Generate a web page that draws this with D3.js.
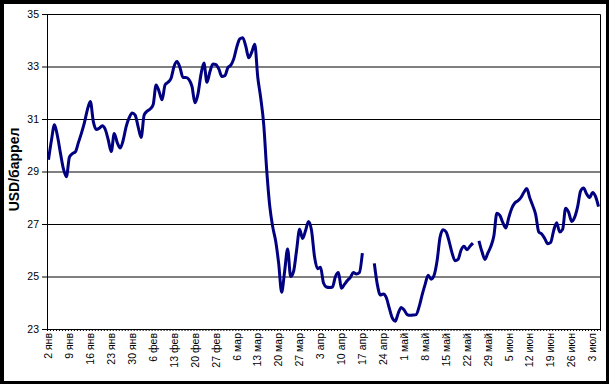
<!DOCTYPE html>
<html>
<head>
<meta charset="utf-8">
<script src="https://cdn.jsdelivr.net/npm/d3@7"></script>
<style>
  body { margin: 0; background: #000; }
  svg { display: block; }
  text { font-family: "Liberation Sans", Arial, sans-serif; }
</style>
</head>
<body>
<svg id="chart" width="609" height="384"></svg>
<script>
// daily categories, first day and the day after the last one
const startDay = "2003-01-02";
const endDay = "2003-07-06";
const monthNames = ["янв", "фев", "мар", "апр", "май", "июн", "июл"];
const yTicks = [23, 25, 27, 29, 31, 33, 35];
const yTitle = "USD/баррел";

// one value per calendar day from 2 янв, null = gap in the line
const prices = [
  29.45, 30.2, 30.78, 30.35, 29.7, 29.1, 28.8, 29.55, 29.68, 29.75,
  30.1, 30.45, 30.85, 31.35, 31.67, 30.9, 30.6, 30.65, 30.74, 30.6,
  30.2, 29.76, 30.45, 30.1, 29.9, 30.2, 30.72, 31.05, 31.23, 31.15,
  30.7, 30.3, 31.15, 31.3, 31.38, 31.54, 32.3, 32.05, 31.73, 32.3,
  32.4, 32.55, 33.0, 33.19, 32.95, 32.58, 32.58, 32.5, 32.24, 31.62,
  31.95, 32.69, 33.13, 32.4, 32.8, 33.1, 33.07, 32.9, 32.62, 32.65,
  32.95, 33.05, 33.3, 33.75, 34.05, 34.1, 33.77, 33.33, 33.55, 33.85,
  32.6, 31.8, 30.8, 29.05, 27.7, 26.9, 26.35, 25.5, 24.4, 25.2,
  26.05, 25.0, 25.2, 26.0, 26.8, 26.45, 26.75, 27.1, 26.75, 25.75,
  25.3, 25.35, 24.75, 24.6, 24.58, 24.6, 25.0, 25.15, 24.55, 24.7,
  24.85, 24.97, 25.15, 25.1, 25.15, 25.89, null, null, null, 25.5,
  24.7, 24.3, 24.33, 24.2, 23.8, 23.42, 23.3, 23.6, 23.82, 23.72,
  23.55, 23.52, 23.53, 23.55, 23.85, 24.3, 24.7, 25.05, 24.9, 25.05,
  25.6, 26.5, 26.78, 26.7, 26.35, 25.9, 25.6, 25.65, 26.0, 26.15,
  26.02, 26.15, 26.27, null, 26.36, 25.95, 25.65, 25.9, 26.15, 26.55,
  27.41, 27.33, 27.05, 26.85, 27.25, 27.6, 27.8, 27.88, 28.0, 28.2,
  28.35, 28.0, 27.7, 27.35, 26.7, 26.62, 26.45, 26.25, 26.3, 26.75,
  27.05, 26.7, 26.8, 27.6, 27.45, 27.1, 27.25, 27.65, 28.25, 28.37,
  28.15, 28.0, 28.2, 28.05, 27.66
];

const parse = d3.utcParse("%Y-%m-%d");
const t0 = parse(startDay);
const t1 = parse(endDay);
const days = d3.utcDay.range(t0, t1);
// points sit in the middle of their day
const data = prices.map((v, i) => ({ date: d3.utcHour.offset(days[i], 12), v: v }));

const plotLeft = 47, plotRight = 600, plotTop = 14, plotBottom = 329;

const svg = d3.select("#chart");

//black frame with white card
svg.append("rect").attr("width", 609).attr("height", 384).attr("fill", "#000");
svg.append("rect")
  .attr("x", 4).attr("y", 4)
  .attr("width", 602).attr("height", 377)
  .attr("fill", "#fff");

const x = d3.scaleUtc().domain([t0, t1]).range([plotLeft, plotRight]);
const y = d3.scaleLinear().domain([23, 35]).range([plotBottom, plotTop]);

//horizontal grid
svg.append("g")
  .selectAll("line")
  .data(yTicks)
  .join("line")
  .attr("x1", plotLeft).attr("x2", plotRight + 0.5)
  .attr("y1", d => y(d) + 0.5).attr("y2", d => y(d) + 0.5)
  .attr("stroke", "#000")
  .attr("stroke-width", 1);

//right edge of plot area
svg.append("line")
  .attr("x1", plotRight + 0.5).attr("x2", plotRight + 0.5)
  .attr("y1", plotTop + 0.5).attr("y2", plotBottom + 0.5)
  .attr("stroke", "#000");

//y axis
const yAxis = svg.append("g")
  .attr("transform", `translate(${plotLeft},0)`)
  .call(d3.axisLeft(y).tickValues(yTicks).tickSize(5).tickSizeOuter(0));
yAxis.select(".domain").attr("stroke", "#000");
yAxis.selectAll("text")
  .attr("font-size", "10.5px")
  .attr("font-family", "'Liberation Sans', Arial, sans-serif")
  .attr("fill", "#000");

//x axis, one tick per day
const xAxis = svg.append("g")
  .attr("transform", `translate(0,${plotBottom})`)
  .call(d3.axisBottom(x)
    .tickValues(d3.utcDay.range(t0, d3.utcDay.offset(t1, 1)))
    .tickSize(2)
    .tickSizeOuter(0)
    .tickFormat(""));
xAxis.selectAll("line").attr("stroke", "#000");
xAxis.select(".domain").attr("stroke", "#000");

//weekly labels, rotated
const labelDays = days.filter((d, i) => i % 7 === 0);
svg.append("g")
  .selectAll("text")
  .data(labelDays)
  .join("text")
  .attr("transform", d => `translate(${x(d3.utcHour.offset(d, 12))},${plotBottom + 4}) rotate(-90)`)
  .attr("text-anchor", "end")
  .attr("dy", "0.35em")
  .attr("font-size", "10.5px")
  .text(d => d.getUTCDate() + " " + monthNames[d.getUTCMonth()]);

//y title
svg.append("text")
  .attr("transform", `translate(19,${(plotTop + plotBottom) / 2 - 2}) rotate(-90)`)
  .attr("text-anchor", "middle")
  .attr("font-size", "14px")
  .attr("font-weight", "bold")
  .text(yTitle);

//price line
const line = d3.line()
  .defined(d => d.v != null)
  .x(d => x(d.date))
  .y(d => y(d.v))
  .curve(d3.curveMonotoneX);

svg.append("path")
  .datum(data)
  .attr("d", line)
  .attr("fill", "none")
  .attr("stroke", "#000080")
  .attr("stroke-width", 3)
  .attr("stroke-linejoin", "round");
</script>
</body>
</html>
